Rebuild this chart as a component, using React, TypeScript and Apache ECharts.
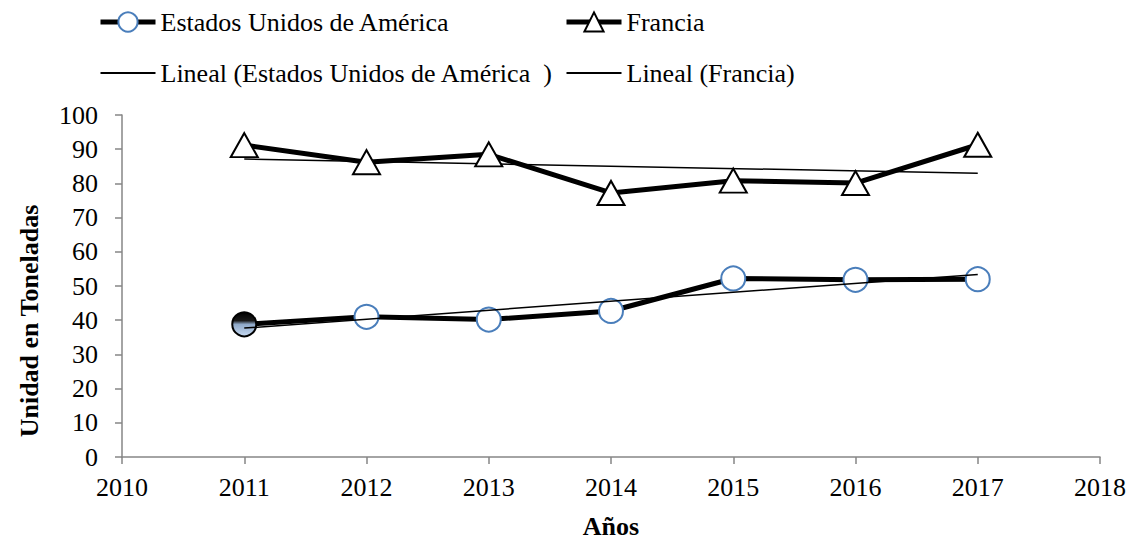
import React, { useEffect, useRef } from "react";
import * as echarts from "echarts";

const years = [2011, 2012, 2013, 2014, 2015, 2016, 2017];
const usaValues = [38.8, 41, 40.2, 42.7, 52.2, 51.8, 52];
const franciaValues = [91.2, 86.2, 88.5, 77.2, 80.8, 80.1, 91.3];
const xTicks = [2010, 2011, 2012, 2013, 2014, 2015, 2016, 2017, 2018];

const usaName = "Estados Unidos de América";
const frName = "Francia";
const usaTrendName = "Lineal (Estados Unidos de América  )";
const frTrendName = "Lineal (Francia)";

function trend(xs: number[], ys: number[]): number[][] {
  const n = xs.length;
  const mx = xs.reduce((a, b) => a + b, 0) / n;
  const my = ys.reduce((a, b) => a + b, 0) / n;
  let num = 0;
  let den = 0;
  for (let i = 0; i < n; i++) {
    num += (xs[i] - mx) * (ys[i] - my);
    den += (xs[i] - mx) * (xs[i] - mx);
  }
  const b = num / den;
  const a = my - b * mx;
  return [xs[0], xs[n - 1]].map((x) => [x, a + b * x]);
}

const FONT = "Liberation Serif";

export default function App() {
  const ref = useRef<HTMLDivElement>(null);
  useEffect(() => {
    if (!ref.current) return;
    const chart = echarts.init(ref.current, undefined, { renderer: "svg" });
    const usaData = years.map((y, i) => {
      const item: any = { value: [y, usaValues[i]] };
      if (i === 0) {
        item.itemStyle = {
          color: new echarts.graphic.LinearGradient(0, 0, 0, 1, [
            { offset: 0, color: "#000000" },
            { offset: 0.35, color: "#1a1a1a" },
            { offset: 0.5, color: "#8fa9c9" },
            { offset: 1, color: "#c6d9f1" },
          ]),
          borderColor: "#000000",
          borderWidth: 2,
        };
      }
      return item;
    });
    const frData = years.map((y, i) => [y, franciaValues[i]]);
    const legendText = { fontFamily: FONT, fontSize: 26, color: "#000" };
    chart.setOption({
      animation: false,
      textStyle: { fontFamily: FONT },
      legend: [
        {
          left: 90,
          top: 1,
          padding: 0,
          orient: "vertical",
          itemGap: 25,
          itemWidth: 55,
          itemHeight: 24,
          textStyle: legendText,
          data: [
            { name: usaName, lineStyle: { width: 5 } },
            { name: usaTrendName, itemStyle: { opacity: 0 }, lineStyle: { width: 2 } },
          ],
        },
        {
          left: 556,
          top: 1,
          padding: 0,
          orient: "vertical",
          itemGap: 25,
          itemWidth: 55,
          itemHeight: 24,
          textStyle: legendText,
          data: [
            { name: frName, lineStyle: { width: 5 } },
            { name: frTrendName, itemStyle: { opacity: 0 }, lineStyle: { width: 2 } },
          ],
        },
      ],
      grid: { left: 98, right: 29, top: 107, bottom: 73, containLabel: false },
      xAxis: {
        type: "value",
        min: xTicks[0],
        max: xTicks[xTicks.length - 1],
        interval: 1,
        name: "Años",
        nameLocation: "middle",
        nameGap: 56,
        nameTextStyle: { fontFamily: FONT, fontSize: 26, fontWeight: "bold", color: "#000" },
        axisLine: { lineStyle: { color: "#868686", width: 1.5 } },
        axisTick: { show: true, length: 7, lineStyle: { color: "#868686", width: 1.5 } },
        axisLabel: {
          fontFamily: FONT,
          fontSize: 26,
          color: "#000",
          margin: 17,
          formatter: (v: number) => String(v),
        },
        splitLine: { show: false },
      },
      yAxis: {
        type: "value",
        min: 0,
        max: 100,
        interval: 10,
        name: "Unidad en Toneladas",
        nameLocation: "middle",
        nameGap: 80,
        nameRotate: 90,
        nameTextStyle: {
          fontFamily: FONT,
          fontSize: 26,
          fontWeight: "bold",
          color: "#000",
          padding: [0, 70, 0, 0],
        },
        axisLine: { show: true, lineStyle: { color: "#868686", width: 1.5 } },
        axisTick: { show: true, length: 7, lineStyle: { color: "#868686", width: 1.5 } },
        axisLabel: { fontFamily: FONT, fontSize: 26, color: "#000", margin: 24 },
        splitLine: { show: false },
      },
      series: [
        {
          name: usaName,
          type: "line",
          data: usaData,
          symbol: "circle",
          symbolSize: 24,
          z: 3,
          lineStyle: { color: "#000", width: 5 },
          itemStyle: { color: "#ffffff", borderColor: "#4a7ebb", borderWidth: 2 },
        },
        {
          name: frName,
          type: "line",
          data: frData,
          symbol: "triangle",
          symbolSize: [27, 24],
          z: 3,
          lineStyle: { color: "#000", width: 5 },
          itemStyle: { color: "#ffffff", borderColor: "#000", borderWidth: 2 },
        },
        {
          name: usaTrendName,
          type: "line",
          data: trend(years, usaValues),
          symbol: "none",
          z: 4,
          lineStyle: { color: "#000", width: 1.5 },
          itemStyle: { color: "#000" },
        },
        {
          name: frTrendName,
          type: "line",
          data: trend(years, franciaValues),
          symbol: "none",
          z: 2,
          lineStyle: { color: "#000", width: 1.5 },
          itemStyle: { color: "#000" },
        },
      ],
    });
    return () => chart.dispose();
  }, []);
  return <div ref={ref} style={{ width: 1121, height: 536 }} />;
}
